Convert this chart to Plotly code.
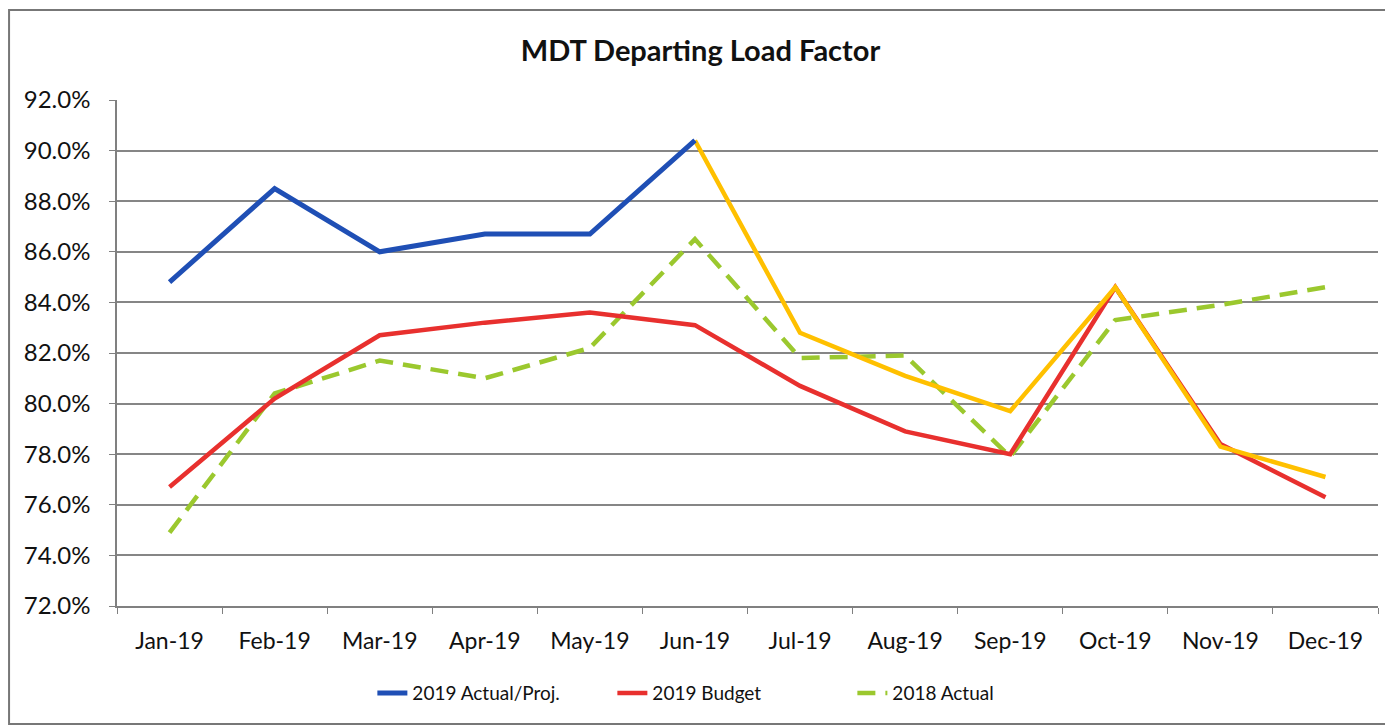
import plotly.graph_objects as go

months = ["Jan-19", "Feb-19", "Mar-19", "Apr-19", "May-19", "Jun-19",
          "Jul-19", "Aug-19", "Sep-19", "Oct-19", "Nov-19", "Dec-19"]
actual_2019 = [84.8, 88.5, 86.0, 86.7, 86.7, 90.4, None, None, None, None, None, None]
proj_2019 = [None, None, None, None, None, 90.4, 82.8, 81.1, 79.7, 84.6, 78.3, 77.1]
proj_2019_thin = [None, None, None, None, None, None, None, None, None, 84.5, 78.4, None]
budget_2019 = [76.7, 80.2, 82.7, 83.2, 83.6, 83.1, 80.7, 78.9, 78.0, 84.6, 78.4, 76.3]
actual_2018 = [74.9, 80.4, 81.7, 81.0, 82.2, 86.5, 81.8, 81.9, 77.9, 83.3, 83.9, 84.6]
y_ticks = [72, 74, 76, 78, 80, 82, 84, 86, 88, 90, 92]

FONT = "Lato"

fig = go.Figure()
fig.add_trace(go.Scatter(x=months, y=actual_2018, mode="lines", name="2018 Actual",
                         line=dict(color="#9BC82E", width=4.5, dash="18px,10px"), legendrank=3))
fig.add_trace(go.Scatter(x=months, y=budget_2019, mode="lines", name="2019 Budget",
                         line=dict(color="#E8302E", width=4.5), legendrank=2))
fig.add_trace(go.Scatter(x=months, y=proj_2019_thin, mode="lines", showlegend=False,
                         line=dict(color="#2E5FB8", width=1.5)))
fig.add_trace(go.Scatter(x=months, y=proj_2019, mode="lines", showlegend=False,
                         line=dict(color="#FFC000", width=4.5)))
fig.add_trace(go.Scatter(x=months, y=actual_2019, mode="lines", name="2019 Actual/Proj.",
                         line=dict(color="#1F4FB5", width=5), legendrank=1))

fig.update_layout(
    width=1385, height=720,
    margin=dict(l=109, r=15, t=92, b=122),
    paper_bgcolor="white", plot_bgcolor="white",
    title=dict(text="<b>MDT Departing Load Factor</b>", x=0.5, xanchor="center",
               y=0.94, yanchor="middle",
               font=dict(family=FONT, size=29, color="#111111")),
    font=dict(family=FONT, size=24, color="#111111"),
    showlegend=True,
    legend=dict(orientation="h", x=0.488, xanchor="center", y=-0.172, yanchor="middle",
                font=dict(family=FONT, size=19, color="#111111"),
                traceorder="normal", entrywidth=195, entrywidthmode="pixels",
                tracegroupgap=0),
    shapes=[dict(type="rect", xref="paper", yref="paper",
                 x0=-0.0856, x1=1.0095, y0=-0.233, y1=1.178,
                 line=dict(color="#777777", width=2), layer="below")],
)
fig.update_xaxes(type="category", categoryorder="array", categoryarray=months,
                 showgrid=False, showline=True, linecolor="#808080", linewidth=1.5,
                 ticks="outside", tickson="boundaries", ticklen=6, tickcolor="#808080",
                 tickfont=dict(size=23), ticklabelstandoff=14, range=[-0.5, 11.5])
fig.update_yaxes(range=[72, 92], tickvals=y_ticks,
                 ticktext=[f"{v:.1f}%" for v in y_ticks],
                 showgrid=True, gridcolor="#868686", gridwidth=1.7,
                 showline=True, linecolor="#808080", linewidth=1.5,
                 ticks="outside", ticklen=6, tickcolor="#808080",
                 tickfont=dict(size=24), ticklabelstandoff=14, zeroline=False)

fig.write_html("out.html")
